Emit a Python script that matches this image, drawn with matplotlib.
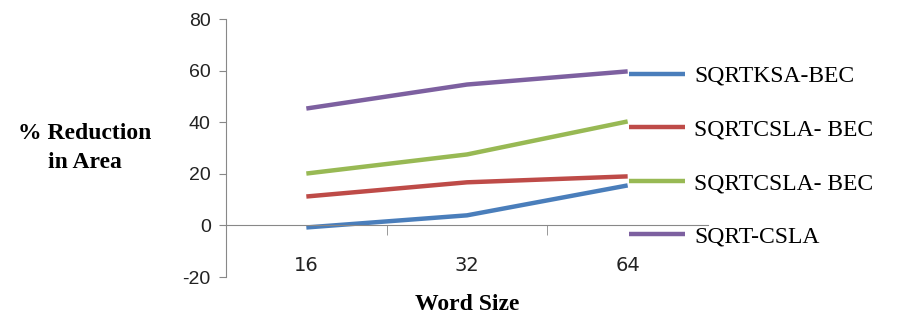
import matplotlib.pyplot as plt
import numpy as np

plt.rcParams["axes.unicode_minus"] = False

# word sizes on the x axis
word_sizes = ["16", "32", "64"]

# % reduction in area for each adder
sqrtksa_bec = [-0.8, 3.9, 15.5]
sqrtcsla_bec_a = [11.2, 16.7, 19.0]
sqrtcsla_bec_b = [20.1, 27.5, 40.3]
sqrt_csla = [45.3, 54.6, 59.7]

series_labels = ["SQRTKSA-BEC", "SQRTCSLA- BEC", "SQRTCSLA- BEC", "SQRT-CSLA"]
series_colors = ["#4a7ebb", "#be4b48", "#98b954", "#7d60a0"]

fig = plt.figure(figsize=(9.02, 3.24), dpi=100)
ax = fig.add_axes([226 / 902, 47 / 324, 482 / 902, 258 / 324])

x = np.arange(len(word_sizes))
lines = []
for vals, lab, col in zip([sqrtksa_bec, sqrtcsla_bec_a, sqrtcsla_bec_b, sqrt_csla],
                          series_labels, series_colors):
    ln, = ax.plot(x, vals, color=col, lw=3.2, solid_capstyle="butt", label=lab)
    lines.append(ln)

ax.set_xlim(-0.5, 2.5)
ax.set_ylim(-20, 80)
ax.set_yticks([-20, 0, 20, 40, 60, 80])

# category labels sit between boundary ticks
ax.set_xticks(x)
ax.set_xticklabels(word_sizes)
ax.set_xticks([0.5, 1.5], minor=True)
ax.tick_params(axis="x", which="major", length=0, pad=22, labelsize=14, labelcolor="#222222")
ax.tick_params(axis="x", which="minor", length=7, direction="out", color="#888888")
ax.tick_params(axis="y", length=5, direction="out", color="#888888", labelsize=14,
               labelcolor="#222222", pad=6)
for lbl in ax.get_xticklabels() + ax.get_yticklabels():
    lbl.set_family("Liberation Sans")

ax.spines["top"].set_visible(False)
ax.spines["right"].set_visible(False)
ax.spines["bottom"].set_position(("data", 0))
ax.spines["bottom"].set_color("#888888")
ax.spines["left"].set_color("#888888")

fig.text(85 / 902, 1 - 148 / 324, "% Reduction\nin Area", ha="center", va="center",
         family="Liberation Serif", fontweight="bold", fontsize=17, linespacing=1.45)
fig.text(467 / 902, 1 - 304 / 324, "Word Size", ha="center", va="center",
         family="Liberation Serif", fontweight="bold", fontsize=17)

leg = fig.legend(handles=lines, loc="upper left", bbox_to_anchor=(608 / 902, 1 - 44 / 324),
                 frameon=False, handlelength=2.35, handletextpad=0.4, labelspacing=1.36,
                 prop={"family": "Liberation Serif", "size": 17})
for h in leg.legend_handles:
    h.set_linewidth(3.2)

fig.savefig("out.png", dpi=100)
